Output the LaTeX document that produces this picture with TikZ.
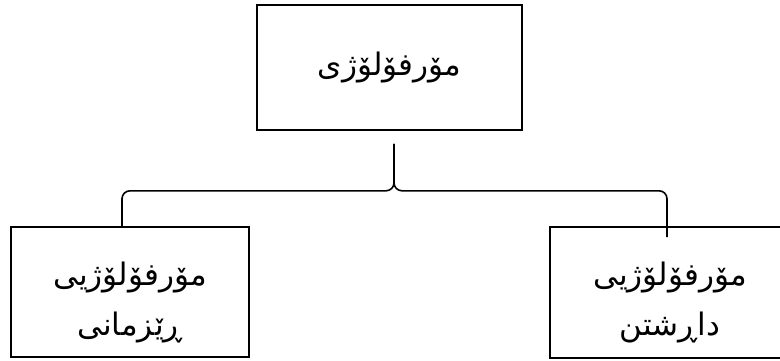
\documentclass[tikz,border=0pt]{standalone}
\usepackage{fontspec}
\usetikzlibrary{calc}
\newfontfamily\kurdfont[Script=Arabic]{DejaVu Sans}
\TeXXeTstate=1
\definecolor{TreeInk}{gray}{0.0}
\tikzset{
    tree/diagram/.style={
        font=\kurdfont\fontsize{31}{50}\selectfont,
        draw=TreeInk,
        text=TreeInk,
        line width=1.6pt,
        x=1pt, y=-1pt
    },
    tree/box/.style={
        draw=TreeInk, line width=1.6pt, rectangle,
        align=center, inner sep=0pt
    },
    tree/brace/.style={draw=TreeInk, line width=1.6pt, rounded corners=8pt}
}
\newcommand{\toppad}{\rule{0pt}{44pt}}

\begin{document}
\begin{tikzpicture}[tree/diagram]
    \useasboundingbox (0,0) rectangle (780,360);
    \node[tree/box, minimum width=265pt, minimum height=125pt]
        (morph) at (389.5,67.5) {\beginR مۆرفۆلۆژی\endR};
    \node[tree/box, minimum width=238pt, minimum height=130pt]
        (gram) at (130,292) {\toppad\beginR مۆرفۆلۆژیی\endR\\\beginR ڕێزمانی\endR};
    \node[tree/box, minimum width=240pt, minimum height=131pt]
        (deriv) at (670,292.5) {\toppad\beginR مۆرفۆلۆژیی\endR\\\beginR داڕشتن\endR};
    \coordinate (tip) at ($(morph.south)+(4.5,13)$);
    \coordinate (level) at ($(tip)+(0,47)$);
    \coordinate (armL) at ($(gram.north)+(-8,0)$);
    \coordinate (armR) at ($(deriv.north)+(-3,11)$);
    \draw[tree/brace] (armL) |- (level) -- (tip);
    \draw[tree/brace] (armR) |- (level) -- (tip);
\end{tikzpicture}
\end{document}
